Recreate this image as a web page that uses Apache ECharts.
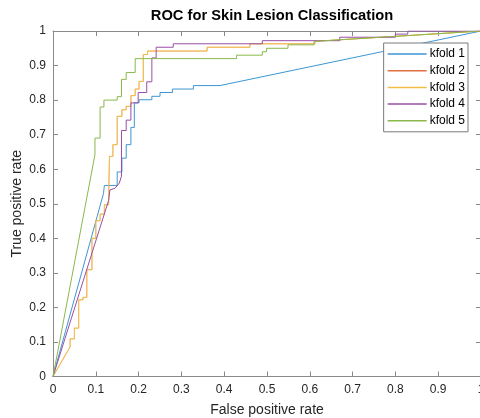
<!DOCTYPE html>
<html>
<head>
<meta charset="utf-8">
<script src="https://cdn.jsdelivr.net/npm/echarts@6/dist/echarts.min.js"></script>
<style>
  html, body { margin: 0; padding: 0; background: #fff; }
  #roc { width: 480px; height: 418px; }
</style>
</head>
<body>
<div id="roc"></div>
<script>
// ROC curves, [false positive rate, true positive rate]
var kfold1 = [
  [0, 0], [0.118, 0.53], [0.12, 0.553], [0.150, 0.553], [0.150, 0.592], [0.161, 0.592],
  [0.161, 0.632], [0.171, 0.632], [0.171, 0.671], [0.182, 0.671], [0.182, 0.721],
  [0.190, 0.721], [0.190, 0.792], [0.201, 0.792], [0.201, 0.801], [0.231, 0.801],
  [0.231, 0.811], [0.250, 0.811], [0.250, 0.822], [0.279, 0.822], [0.279, 0.832],
  [0.328, 0.832], [0.328, 0.842], [0.390, 0.842], [1, 1]
];
var kfold3 = [
  [0, 0], [0.040, 0.086], [0.040, 0.109], [0.050, 0.109], [0.050, 0.140], [0.060, 0.140],
  [0.060, 0.222], [0.070, 0.222], [0.070, 0.229], [0.079, 0.229], [0.079, 0.309],
  [0.091, 0.309], [0.091, 0.400], [0.100, 0.400], [0.100, 0.451], [0.110, 0.451],
  [0.110, 0.470], [0.120, 0.470], [0.120, 0.497], [0.130, 0.497], [0.130, 0.523],
  [0.132, 0.523], [0.132, 0.637], [0.140, 0.637], [0.140, 0.671], [0.150, 0.671],
  [0.150, 0.753], [0.161, 0.753], [0.161, 0.772], [0.171, 0.772], [0.171, 0.782],
  [0.182, 0.782], [0.182, 0.813], [0.192, 0.813], [0.192, 0.832], [0.201, 0.832],
  [0.201, 0.854], [0.211, 0.854], [0.211, 0.932], [0.221, 0.932], [0.221, 0.942],
  [0.360, 0.942], [0.360, 0.953], [0.460, 0.953], [0.460, 0.963], [0.612, 0.963],
  [0.612, 0.970], [1, 1]
];
// kfold 2 lies under kfold 3 in the picture
var kfold2 = kfold3.slice();
var kfold4 = [
  [0, 0], [0.130, 0.51], [0.133, 0.54], [0.145, 0.545], [0.155, 0.56], [0.160, 0.58],
  [0.160, 0.712], [0.171, 0.712], [0.171, 0.742], [0.182, 0.742], [0.182, 0.792],
  [0.199, 0.792], [0.199, 0.822], [0.219, 0.822], [0.219, 0.853], [0.231, 0.853],
  [0.231, 0.922], [0.241, 0.922], [0.241, 0.953], [0.281, 0.953], [0.281, 0.963],
  [0.489, 0.963], [0.489, 0.972], [0.670, 0.972], [0.670, 0.982], [0.800, 0.982],
  [0.800, 0.991], [0.829, 0.991], [0.829, 1], [1, 1]
];
var kfold5 = [
  [0, 0], [0.098, 0.642], [0.098, 0.690], [0.110, 0.690], [0.110, 0.780], [0.119, 0.780],
  [0.119, 0.800], [0.150, 0.800], [0.150, 0.810], [0.160, 0.810], [0.160, 0.860],
  [0.171, 0.860], [0.171, 0.880], [0.192, 0.880], [0.192, 0.920], [0.429, 0.920],
  [0.429, 0.930], [0.489, 0.930], [0.489, 0.940], [0.499, 0.940], [0.499, 0.950],
  [0.549, 0.950], [0.549, 0.960], [0.610, 0.960], [0.610, 0.970], [1, 1]
];
var names = ["kfold 1", "kfold 2", "kfold 3", "kfold 4", "kfold 5"];
var curves = [kfold1, kfold2, kfold3, kfold4, kfold5];
var colors = ["#3d95d4", "#e0703f", "#f2bd45", "#9a4ea6", "#8ab84c"];
var widths = [1, 0.5, 1, 1, 1];
var ticks = [0, 0.1, 0.2, 0.3, 0.4, 0.5, 0.6, 0.7, 0.8, 0.9, 1];

var axisGray = "#8a8a8a";
var txt = "#262626";

function fmt(v) {
  var r = Math.round(v * 10) / 10;
  return ticks.indexOf(r) >= 0 ? String(r) : "";
}

function mkAxis(pos, main, name, gap) {
  return {
    type: "value",
    position: pos,
    min: 0,
    max: 1,
    interval: 0.1,
    name: main ? name : "",
    nameLocation: "middle",
    nameGap: gap,
    nameMoveOverlap: false,
    nameTextStyle: { fontFamily: "Liberation Sans", fontSize: 14, color: txt },
    axisLine: { show: true, onZero: false, lineStyle: { color: axisGray, width: 1 } },
    axisTick: { show: true, inside: true, length: 5, lineStyle: { color: axisGray } },
    axisLabel: {
      show: main,
      fontFamily: "Liberation Sans",
      fontSize: 12,
      color: txt,
      margin: 7,
      formatter: fmt
    },
    splitLine: { show: false }
  };
}

var chart = echarts.init(document.getElementById("roc"));
chart.setOption({
  animation: false,
  backgroundColor: "#fff",
  title: {
    text: "ROC for Skin Lesion Classification",
    left: 267,
    textAlign: "center",
    top: 3,
    textStyle: { fontFamily: "Liberation Sans", fontSize: 14.7, fontWeight: "bold", color: "#000" }
  },
  grid: { left: 53, top: 31, width: 428, height: 345.5, outerBoundsMode: "none", containLabel: false },
  xAxis: [
    mkAxis("bottom", true, "False positive rate", 27),
    mkAxis("top", false, "", 0)
  ],
  yAxis: [
    mkAxis("left", true, "True positive rate", 29),
    mkAxis("right", false, "", 0)
  ],
  legend: {
    data: names,
    orient: "vertical",
    right: 12,
    top: 43,
    backgroundColor: "#fff",
    borderColor: "#7a7a7a",
    borderWidth: 1,
    padding: [4, 3, 4, 4],
    itemWidth: 39,
    itemHeight: 1.5,
    itemGap: 2.7,
    icon: "rect",
    textStyle: { fontFamily: "Liberation Sans", fontSize: 12, color: "#000", lineHeight: 14, padding: [0, 0, 0, -2] }
  },
  series: curves.map(function (c, i) {
    return {
      name: names[i],
      type: "line",
      data: c,
      showSymbol: false,
      symbol: "none",
      color: colors[i],
      lineStyle: { width: widths[i], color: colors[i] },
      z: 2 + i
    };
  })
});
</script>
</body>
</html>
